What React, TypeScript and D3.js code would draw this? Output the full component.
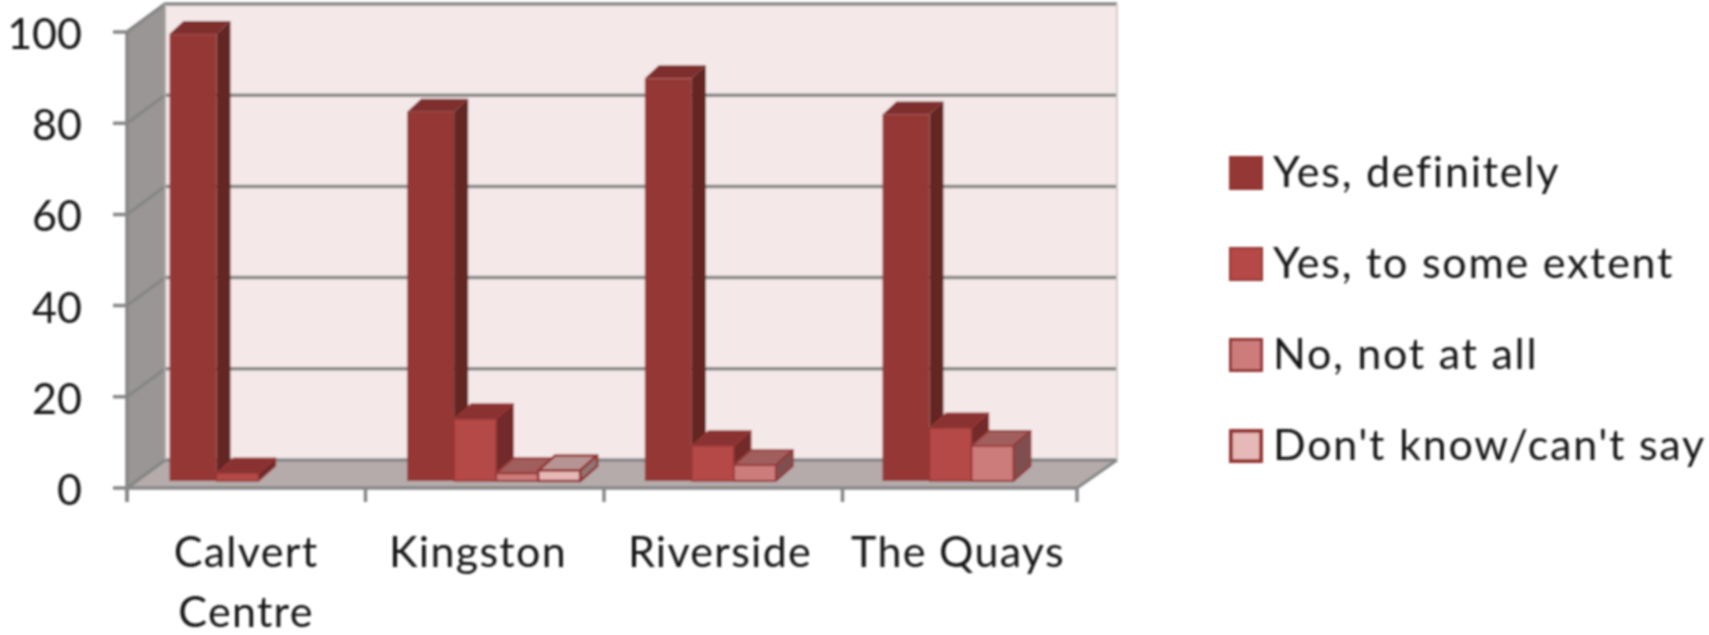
import React from "react";
import * as d3 from "d3";

const categories = ["Calvert Centre", "Kingston", "Riverside", "The Quays"];
const seriesNames = ["Yes, definitely", "Yes, to some extent", "No, not at all", "Don't know/can't say"];
const yesDefinitely = [98, 81, 88.3, 80.4];
const yesToSomeExtent = [1.7, 13.6, 7.7, 11.6];
const noNotAtAll = [0, 1.7, 3.5, 7.7];
const dontKnow = [0, 2.3, 0, 0];
const yTicks = [0, 20, 40, 60, 80, 100];

const seriesValues = [yesDefinitely, yesToSomeExtent, noNotAtAll, dontKnow];
const fronts = ["#953735", "#b54a47", "#cc7b7a", "#e6b9b8"];
const tops = ["#7f2f2d", "#8a3331", "#a05e5d", "#b79494"];
const sides = ["#632523", "#722c2a", "#7f5050", "#8f7776"];
const strokes = ["#953735", "#953735", "#953735", "#953735"];
const strokeWidths = [0, 1.4, 1.8, 2.6];
const legendInnerStroke = [0, 2, 3, 4];

const FONT = "Lato, 'Open Sans', sans-serif";
const GRID = "#878787";
const INK = "#141414";

const y = d3.scaleLinear().domain([0, 100]).range([488, 32]);
const x = d3.scaleBand<string>().domain(categories).range([127, 1081]).padding(0);
const barStart = d3.scalePoint<string>().domain(categories).range([169.5, 882.5]);
const labelX = d3.scaleOrdinal<string, number>().domain(categories).range([246, 478, 720, 958]);
const seriesEdge = d3.scaleLinear().domain([0, 1, 4]).range([0, 47, 173]);
const legendY = d3.scalePoint<string>().domain(seriesNames).range([173, 446]);

const wall = { dx: 38, dy: -28 };
const barBaseShift = -7;

const pts = (p: [number, number][]) => p.map((d) => d.join(",")).join(" ");

export default function App() {
  const x0 = 127;
  const x1 = 1077;
  const y0 = y(0);
  const yTop = y(100);
  const bars = categories.flatMap((cat, ci) =>
    seriesValues.map((vals, si) => ({ cat, ci, si, v: vals[ci] }))
  ).filter((d) => d.v > 0);

  return (
    <svg width={1709} height={635} style={{ position: "absolute", left: 0, top: 0, background: "#fff" }}>
      <defs>
        <filter id="soft" x="-2%" y="-2%" width="104%" height="104%">
          <feGaussianBlur stdDeviation="0.8" />
        </filter>
      </defs>
      <g filter="url(#soft)">
        {/* walls and floor */}
        <rect x={x0 + wall.dx} y={yTop + wall.dy} width={x1 - x0 + 2} height={y0 - yTop} fill="#f4e8e8" />
        <polygon
          points={pts([[x0, y0], [x0 + wall.dx, y0 + wall.dy], [x0 + wall.dx, yTop + wall.dy], [x0, yTop]])}
          fill="#9a9695"
        />
        <polygon
          points={pts([[x0, y0], [x1, y0], [x1 + wall.dx + 2, y0 + wall.dy], [x0 + wall.dx, y0 + wall.dy]])}
          fill="#b5abab"
        />
        {/* gridlines */}
        {yTicks.map((t) => (
          <g key={t} stroke={GRID} strokeWidth={3.5} fill="none">
            <polyline
              points={pts([[x0 - 14, y(t)], [x0, y(t)], [x0 + wall.dx, y(t) + wall.dy], [x1 + wall.dx + 2, y(t) + wall.dy]])}
            />
          </g>
        ))}
        <line x1={x1 + wall.dx + 2} x2={x1 + wall.dx + 2} y1={yTop + wall.dy} y2={y0 + wall.dy} stroke="#d8cccc" strokeWidth={2} />
        <line x1={x0 + wall.dx} x2={x0 + wall.dx} y1={yTop + wall.dy} y2={y0 + wall.dy} stroke="#a8a4a4" strokeWidth={2} />
        <line x1={x0} x2={x0} y1={yTop} y2={502} stroke={GRID} strokeWidth={3.5} />
        <line x1={x0} x2={x1} y1={y0} y2={y0} stroke={GRID} strokeWidth={3.5} />
        <line x1={x1} x2={x1 + wall.dx + 2} y1={y0} y2={y0 + wall.dy} stroke={GRID} strokeWidth={3} />
        {[...categories.map((c) => x(c) as number), x1].map((tx, i) => (
          <line key={i} x1={tx} x2={tx} y1={y0} y2={502} stroke={GRID} strokeWidth={3.5} />
        ))}

        {/* bars */}
        {bars.map((b) => {
          const start = barStart(b.cat) as number;
          const left = start + seriesEdge(b.si);
          const right = start + seriesEdge(b.si + 1);
          const base = y(0) + barBaseShift;
          const top = y(b.v) + barBaseShift;
          const ddx = b.si === 0 ? 14 : 17;
          const ddy = b.si === 0 ? -13 : -15;
          const sw = strokeWidths[b.si];
          const common = { stroke: sw ? strokes[b.si] : "none", strokeWidth: sw, strokeLinejoin: "round" as const };
          return (
            <g key={`${b.ci}-${b.si}`}>
              <polygon
                points={pts([[left, top], [right, top], [right + ddx, top + ddy], [left + ddx, top + ddy]])}
                fill={tops[b.si]}
                {...common}
              />
              <polygon
                points={pts([[right, top], [right + ddx, top + ddy], [right + ddx, base + ddy], [right, base]])}
                fill={sides[b.si]}
                {...common}
              />
              <rect x={left} y={top} width={right - left} height={base - top} fill={fronts[b.si]} {...common} />
            </g>
          );
        })}

        {/* y labels */}
        {yTicks.map((t) => (
          <text key={t} x={82} y={y(t) + 17} textAnchor="end" fontFamily={FONT} fontSize={43} fill={INK}>
            {t}
          </text>
        ))}

        {/* category labels */}
        {categories.map((c) => {
          const lines = c === "Calvert Centre" ? c.split(" ") : [c];
          return (
            <text key={c} textAnchor="middle" fontFamily={FONT} fontSize={43} letterSpacing={1.3} fill={INK}>
              {lines.map((l, i) => (
                <tspan key={l} x={labelX(c)} y={567 + i * 60}>
                  {l}
                </tspan>
              ))}
            </text>
          );
        })}

        {/* legend */}
        {seriesNames.map((s, i) => {
          const cy = legendY(s) as number;
          const isw = legendInnerStroke[i];
          return (
            <g key={s}>
              <rect
                x={1229 + isw / 2}
                y={cy - 17 + isw / 2}
                width={34 - isw}
                height={34 - isw}
                fill={fronts[i]}
                stroke={strokes[i]}
                strokeWidth={isw}
              />
              <text x={1273} y={cy + 14} fontFamily={FONT} fontSize={43} letterSpacing={1.75} fill={INK}>
                {s}
              </text>
            </g>
          );
        })}
      </g>
    </svg>
  );
}
